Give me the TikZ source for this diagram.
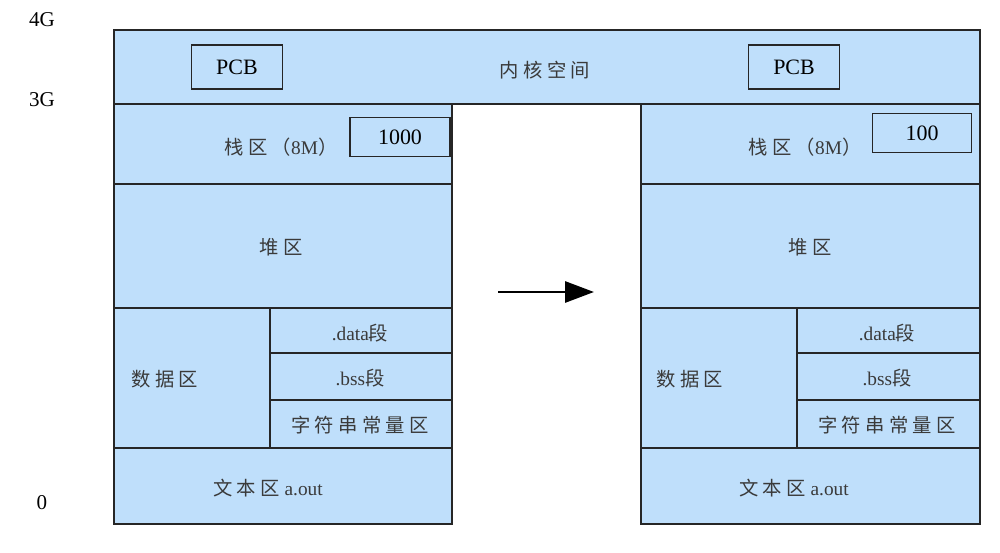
\documentclass[tikz,border=0pt]{standalone}
\usepackage{fontspec}
\setmainfont{Liberation Serif}
\newfontfamily\cjk[LetterSpace=22]{Noto Sans CJK SC}
\newcommand\zh[1]{{\cjk #1}}
\usetikzlibrary{arrows.meta}

\definecolor{memblue}{HTML}{BFDFFB}
\definecolor{inkgray}{HTML}{3A3A3A}

\tikzset{
    seg/.style={draw=black!85, line width=1.2pt, fill=memblue},
    lbl/.style={text=inkgray, inner sep=0pt, font=\fontsize{11}{13}\selectfont},
    tag/.style={draw=black!85, line width=1.1pt, fill=memblue, text=black, inner sep=0pt, font=\fontsize{12.5}{14}\selectfont},
    addr/.style={text=black, inner sep=0pt, font=\fontsize{12}{14}\selectfont},
}

\begin{document}
\begin{tikzpicture}[x=0.02cm, y=-0.02cm]
    \useasboundingbox (0,0) rectangle (1000,553);

    % kernel space
    \draw[seg] (114,30) rectangle (980,104);
    \node[lbl] (kernel) at (545,70) {\zh{内核空间}};
    \node[tag, minimum width=1.82cm, minimum height=0.88cm] (pcbl) at (237,67) {PCB};
    \node[tag, minimum width=1.82cm, minimum height=0.88cm] (pcbr) at (794,67) {PCB};

    % left process
    \draw[seg] (114,104) rectangle (452,184);
    \draw[seg] (114,184) rectangle (452,308);
    \draw[seg] (114,308) rectangle (270,448);
    \draw[seg] (270,308) rectangle (452,353);
    \draw[seg] (270,353) rectangle (452,400);
    \draw[seg] (270,400) rectangle (452,448);
    \draw[seg] (114,448) rectangle (452,524);
    \node[tag, minimum width=2cm, minimum height=0.78cm] (pidl) at (400,137) {1000};
    \node[lbl] (stackl) at (281,147) {\zh{栈区（}8M\zh{）}};
    \node[lbl] (heapl) at (281,247) {\zh{堆区}};
    \node[lbl] (datal) at (165,379) {\zh{数据区}};
    \node[lbl] (dsegl) at (360,333) {.data\zh{段}};
    \node[lbl] (bssl) at (360,378) {.bss\zh{段}};
    \node[lbl] (strl) at (360,425) {\zh{字符串常量区}};
    \node[lbl] (textl) at (268,488) {\zh{文本区} a.out};

    % right process
    \draw[seg] (641,104) rectangle (980,184);
    \draw[seg] (641,184) rectangle (980,308);
    \draw[seg] (641,308) rectangle (797,448);
    \draw[seg] (797,308) rectangle (980,353);
    \draw[seg] (797,353) rectangle (980,400);
    \draw[seg] (797,400) rectangle (980,448);
    \draw[seg] (641,448) rectangle (980,524);
    \node[tag, minimum width=1.98cm, minimum height=0.78cm] (pidr) at (922,133) {100};
    \node[lbl] (stackr) at (805,147) {\zh{栈区（}8M\zh{）}};
    \node[lbl] (heapr) at (810,247) {\zh{堆区}};
    \node[lbl] (datar) at (690,379) {\zh{数据区}};
    \node[lbl] (dsegr) at (887,333) {.data\zh{段}};
    \node[lbl] (bssr) at (887,378) {.bss\zh{段}};
    \node[lbl] (strr) at (887,425) {\zh{字符串常量区}};
    \node[lbl] (textr) at (794,488) {\zh{文本区} a.out};

    % addresses
    \node[addr] (a4g) at (42,20) {4G};
    \node[addr] (a3g) at (42,100) {3G};
    \node[addr] (a0) at (42,503) {0};

    % arrow
    \coordinate (before) at (498,292);
    \coordinate (after) at (594,292);
    \draw[line width=1.7pt, -{Triangle[length=0.58cm, width=0.42cm]}] (before) -- (after);
\end{tikzpicture}
\end{document}
